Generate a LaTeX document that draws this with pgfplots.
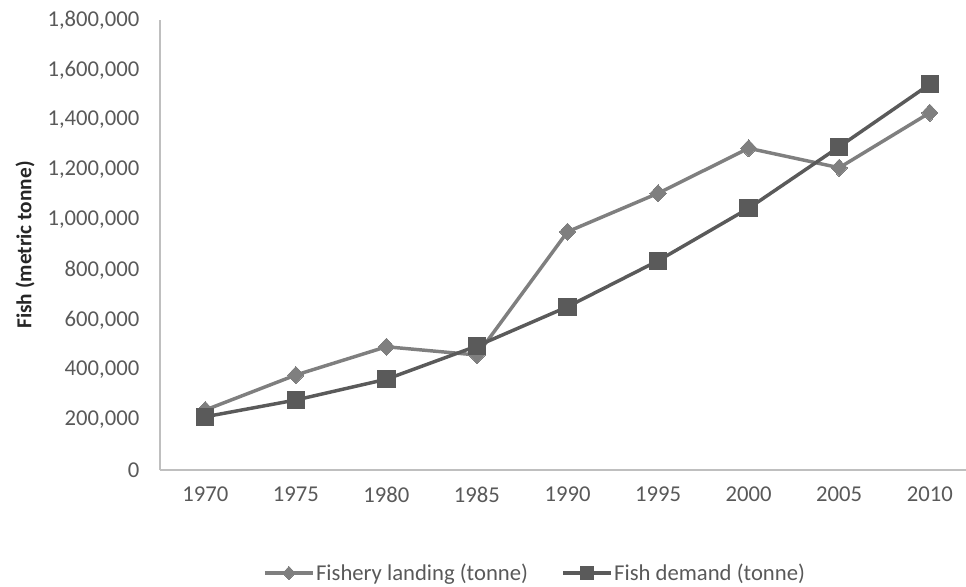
\documentclass[border=0pt]{standalone}
\usepackage{pgfplots}
\pgfplotsset{compat=1.18}
\usepackage{fontspec}
\setmainfont{Carlito}
\definecolor{landc}{HTML}{7F7F7F}
\definecolor{demc}{HTML}{5A5A5A}
\definecolor{axc}{HTML}{BFBFBF}
\definecolor{txt}{HTML}{595959}
\begin{document}
\begin{tikzpicture}
\begin{axis}[
  at={(0,0)}, anchor=south west,
  scale only axis,
  width=604.5pt, height=337.5pt,
  xmin=-0.5, xmax=8.4,
  ymin=0, ymax=1800000,
  xtick={0,1,2,3,4,5,6,7,8},
  xticklabels={1970,1975,1980,1985,1990,1995,2000,2005,2010},
  ytick={0,200000,400000,600000,800000,1000000,1200000,1400000,1600000,1800000},
  scaled y ticks=false,
  /pgf/number format/.cd, fixed, 1000 sep={,}, assume math mode=true,
  /pgfplots/.cd,
  major tick length=0pt,
  axis x line*=bottom, axis y line*=left,
  axis line style={draw=axc, line width=1pt},
  tick label style={font=\fontsize{17}{19}\selectfont, text=txt},
  xticklabel style={yshift=-9pt},
  yticklabel style={xshift=-12pt},
  ylabel={Fish (metric tonne)},
  every axis y label/.style={at={(axis description cs:-0.1675,0.5)}, rotate=90, anchor=center, font=\fontsize{16}{18}\selectfont\bfseries, text=black!85},
  legend image code/.code={
    \draw[mark repeat=2, mark phase=2, mark size=5pt] plot coordinates {(0pt,0pt) (18pt,0pt) (36pt,0pt)};
  },
  legend style={at={(axis description cs:0.465,-0.2289)}, anchor=center, draw=none, fill=none,
    legend columns=2, font=\fontsize{17}{19}\selectfont, text=txt,
    /tikz/every even column/.append style={column sep=24pt},
    inner sep=0pt, nodes={inner sep=1pt}},
  legend cell align=left,
  clip=false,
]
\addplot[color=landc, line width=2.6pt, mark=diamond*, mark size=6.5pt, mark options={fill=landc, draw=landc, line width=0pt, xscale=1.25}]
coordinates {(0,240000) (1,380000) (2,493000) (3,460000) (4,953000) (5,1107000) (6,1287000) (7,1209000) (8,1429000)};
\addlegendentry{Fishery landing (tonne)}
\addplot[color=demc, line width=2.6pt, mark=square*, mark size=6.5pt, mark options={fill=demc, draw=demc, line width=0pt}]
coordinates {(0,213000) (1,280000) (2,363000) (3,496000) (4,653000) (5,837000) (6,1047000) (7,1293000) (8,1543000)};
\addlegendentry{Fish demand (tonne)}
\end{axis}
\pgfresetboundingbox
\path[use as bounding box] (-120pt,-87pt) rectangle (604.5pt,352.5pt);
\end{tikzpicture}
\end{document}
